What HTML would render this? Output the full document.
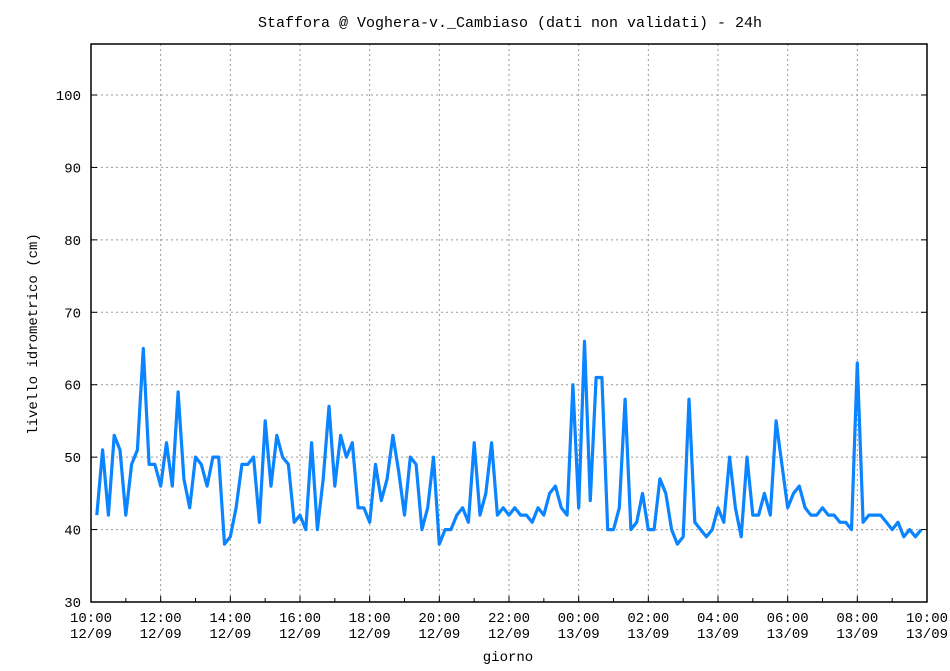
<!DOCTYPE html>
<html><head><meta charset="utf-8"><style>
body{margin:0;background:#fff}
svg text{font-family:"Liberation Mono",monospace;font-size:14px;fill:#000}
</style></head><body>
<svg id="chart" width="950" height="666" xmlns="http://www.w3.org/2000/svg">
<rect width="950" height="666" fill="#fff"/>
<g id="grid"></g>
<g id="axes"></g>
<g id="series"></g>
<text x="510" y="27" text-anchor="middle" style="font-size:15px">Staffora @ Voghera-v._Cambiaso (dati non validati) - 24h</text>
<text x="508" y="661" text-anchor="middle">giorno</text>
<text transform="translate(37,334) rotate(-90)" text-anchor="middle">livello idrometrico (cm)</text>
</svg>
<script>
const yTicks=[30,40,50,60,70,80,90,100];
const xTickHours=[0,2,4,6,8,10,12,14,16,18,20,22,24];
const xTickTimes=["10:00","12:00","14:00","16:00","18:00","20:00","22:00","00:00","02:00","04:00","06:00","08:00","10:00"];
const xTickDates=["12/09","12/09","12/09","12/09","12/09","12/09","12/09","13/09","13/09","13/09","13/09","13/09","13/09"];
const levels=[42,51,42,53,51,42,49,51,65,49,49,46,52,46,59,47,43,50,49,46,50,50,38,39,43,49,49,50,41,55,46,53,50,49,41,42,40,52,40,47,57,46,53,50,52,43,43,41,49,44,47,53,48,42,50,49,40,43,50,38,40,40,42,43,41,52,42,45,52,42,43,42,43,42,42,41,43,42,45,46,43,42,60,43,66,44,61,61,40,40,43,58,40,41,45,40,40,47,45,40,38,39,58,41,40,39,40,43,41,50,43,39,50,42,42,45,42,55,49,43,45,46,43,42,42,43,42,42,41,41,40,63,41,42,42,42,41,40,41,39,40,39,40];
const startMin=10, stepMin=10;
const X0=91,X1=927,Y0=602,Y1=44;
const xs=h=>X0+(X1-X0)*h/24;
const ys=v=>Y0-(v-30)*(602-95)/70;
const NS="http://www.w3.org/2000/svg";
function mk(t,a,p){const e=document.createElementNS(NS,t);for(const k in a)e.setAttribute(k,a[k]);p.appendChild(e);return e;}
const grid=document.getElementById('grid'),axes=document.getElementById('axes'),series=document.getElementById('series');
yTicks.forEach(v=>{const y=ys(v);
 if(v>30){const g=mk('line',{x1:X0,x2:X1,y1:y,y2:y,stroke:'#999','stroke-dasharray':'2,3'},grid);
 
 }
 mk('line',{x1:X0,x2:X0+6,y1:y,y2:y,stroke:'#000'},axes);
 mk('line',{x1:X1-6,x2:X1,y1:y,y2:y,stroke:'#000'},axes);
 const t=mk('text',{x:X0-10,y:y+5,'text-anchor':'end'},axes);t.textContent=v;
 
 
});
xTickHours.forEach((h,i)=>{const x=xs(h);
 if(h>0&&h<24){const g=mk('line',{x1:x,x2:x,y1:Y1,y2:Y0,stroke:'#999','stroke-dasharray':'2,3'},grid);
 
 }
 mk('line',{x1:x,x2:x,y1:Y0,y2:Y0-6,stroke:'#000'},axes);
 const t=mk('text',{x:x,y:622,'text-anchor':'middle'},axes);t.textContent=xTickTimes[i];
 
 
 const d=mk('text',{x:x,y:638,'text-anchor':'middle'},axes);d.textContent=xTickDates[i];
 
 
});
for(let h=1;h<24;h+=2){const x=xs(h);mk('line',{x1:x,x2:x,y1:Y0,y2:Y0-4,stroke:'#000'},axes);}
const fr=mk('rect',{x:X0,y:Y1,width:X1-X0,height:Y0-Y1,fill:'none',stroke:'#000','stroke-width':1.5},axes);


const pts=levels.map((v,i)=>xs((startMin+i*stepMin)/60).toFixed(1)+','+ys(v).toFixed(1)).join(' ');
const pl=mk('polyline',{points:pts,fill:'none',stroke:'#0a84ff','stroke-width':3.2,'stroke-linejoin':'round'},series);


</script>
</body></html>
